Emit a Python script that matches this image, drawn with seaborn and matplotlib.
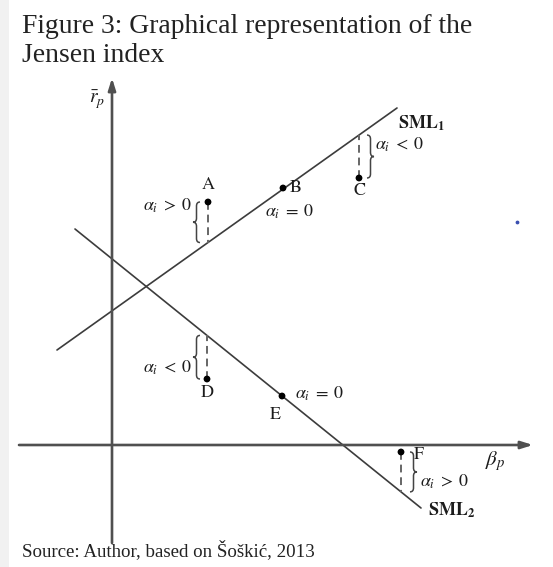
import numpy as np
import matplotlib
matplotlib.use("Agg")
import matplotlib.pyplot as plt
import seaborn as sns
from matplotlib.path import Path
from matplotlib.patches import PathPatch, Rectangle

# diagram coordinates: beta (x) and mean return (y), origin at the axes crossing
sml1_beta = [-55, 285]
sml1_r = [95, 337]
sml2_beta = [-37, 309]
sml2_r = [216, -63]

point_names = ["A", "B", "C", "D", "E", "F"]
point_beta = [96, 171, 247, 95, 170, 289]
point_r = [243, 257, 267, 66, 49, -7]
point_line = [1, 1, 1, 2, 2, 2]

alpha_labels = [r"$\alpha_i\;>\;0$", r"$\alpha_i\;=\;0$", r"$\alpha_i\;<\;0$",
                r"$\alpha_i\;<\;0$", r"$\alpha_i\;=\;0$", r"$\alpha_i\;>\;0$"]

sns.set_style("white")
plt.rcParams["mathtext.fontset"] = "stix"
plt.rcParams["font.family"] = ["Liberation Serif", "DejaVu Serif"]

fig = plt.figure(figsize=(5.53, 5.67), dpi=100)
ax = fig.add_axes([0, 0, 1, 1])
ax.set_xlim(-112, 441)
ax.set_ylim(-122, 445)
ax.axis("off")

# faint page edge on the left
fig.patches.append(Rectangle((0, 0), 9 / 553, 1, transform=fig.transFigure,
                             facecolor="#f1f1f1", edgecolor="none", zorder=0))

ink = "#1c1c1c"
line_c = "#3c3c3c"

# axes with arrows
ax.annotate("", xy=(0, 367), xytext=(0, -98),
            arrowprops=dict(arrowstyle="-|>,head_length=0.7,head_width=0.22",
                            color="#505050", lw=1.9, shrinkA=0, shrinkB=0))
ax.annotate("", xy=(421, 0), xytext=(-93, 0),
            arrowprops=dict(arrowstyle="-|>,head_length=0.7,head_width=0.22",
                            color="#505050", lw=1.9, shrinkA=0, shrinkB=0))

# security market lines
sns.lineplot(x=sml1_beta, y=sml1_r, ax=ax, color=line_c, lw=1.2)
sns.lineplot(x=sml2_beta, y=sml2_r, ax=ax, color=line_c, lw=1.2)


def sml_value(b, which):
    if which == 1:
        return np.interp(b, sml1_beta, sml1_r)
    return np.interp(b, sml2_beta, sml2_r)


def brace(x, y0, y1, side, w=7):
    # curly brace from y0 to y1 at x, tip pointing to `side` (-1 left, +1 right)
    lo, hi = min(y0, y1), max(y0, y1)
    ym = (lo + hi) / 2
    q = 4
    xm = x + side * w / 2
    xt = x + side * w
    verts = [(x, lo), (xm, lo), (xm, lo + q),
             (xm, ym - q), (xm, ym), (xt, ym),
             (xm, ym), (xm, ym + q),
             (xm, hi - q), (xm, hi), (x, hi)]
    codes = [Path.MOVETO, Path.CURVE3, Path.CURVE3,
             Path.LINETO, Path.CURVE3, Path.CURVE3,
             Path.CURVE3, Path.CURVE3,
             Path.LINETO, Path.CURVE3, Path.CURVE3]
    ax.add_patch(PathPatch(Path(verts, codes), facecolor="none",
                           edgecolor="#444444", lw=1.1))


# dashed gaps between points and their SML (alpha)
for name, b, r, w in zip(point_names, point_beta, point_r, point_line):
    on_line = sml_value(b, w)
    if abs(on_line - r) > 3:
        ax.plot([b, b], [r, on_line], color="#666666", lw=1.4,
                dashes=(4, 2.5))

sns.scatterplot(x=point_beta, y=point_r, ax=ax, color="black", s=24,
                edgecolor="none", zorder=5)

# braces
brace(88, 243, sml_value(96, 1), -1)
brace(255, 267, sml_value(247, 1), +1)
brace(88, 66, sml_value(95, 2), -1)
brace(298, -7, sml_value(289, 2), +1)

lab = dict(color=ink, fontsize=13, family="STIXGeneral")
ax.text(96, 260, "A", ha="center", va="center", **lab)
ax.text(178, 257, "B", ha="left", va="center", **lab)
ax.text(247, 254, "C", ha="center", va="center", **lab)
ax.text(95, 52, "D", ha="center", va="center", **lab)
ax.text(163, 30, "E", ha="center", va="center", **lab)
ax.text(302, -10, "F", ha="left", va="center", **lab)

al = dict(color=ink, fontsize=13, va="center")
ax.text(80, 239, alpha_labels[0], ha="right", **al)
ax.text(153, 233, alpha_labels[1], ha="left", **al)
ax.text(263, 300, alpha_labels[2], ha="left", **al)
ax.text(80, 77, alpha_labels[3], ha="right", **al)
ax.text(183, 51, alpha_labels[4], ha="left", **al)
ax.text(308, -37, alpha_labels[5], ha="left", **al)

ax.text(286, 322, r"$\mathbf{SML_1}$", ha="left", va="center", color=ink, fontsize=13)
ax.text(316, -65, r"$\mathbf{SML_2}$", ha="left", va="center", color=ink, fontsize=13)
ax.text(383, -16, r"$\beta_p$", ha="center", va="center", color=ink, fontsize=15)
ax.text(-15, 345, r"$\bar{r}_p$", ha="center", va="center", color=ink, fontsize=14)

# stray mark in the original
ax.scatter([405], [223], s=3, color="#3a4fb0", zorder=5)

# caption texts, sized to the original widths
renderer = fig.canvas.get_renderer()


def fitted(x_px, y_px, s, width_px, size):
    t = fig.text(x_px / 553, 1 - y_px / 567, s, ha="left", va="baseline",
                 color="#222222", fontsize=size)
    w = t.get_window_extent(renderer).width
    t.set_fontsize(size * width_px / w)
    return t


t1 = fitted(22, 33, "Figure 3: Graphical representation of the", 451, 18)
t2 = fitted(22, 62, "Jensen index", 100, 18)
t2.set_fontsize(t1.get_fontsize())
fitted(22, 556, "Source: Author, based on Šoškić, 2013", 291, 10)

fig.savefig("out.png", dpi=100)
